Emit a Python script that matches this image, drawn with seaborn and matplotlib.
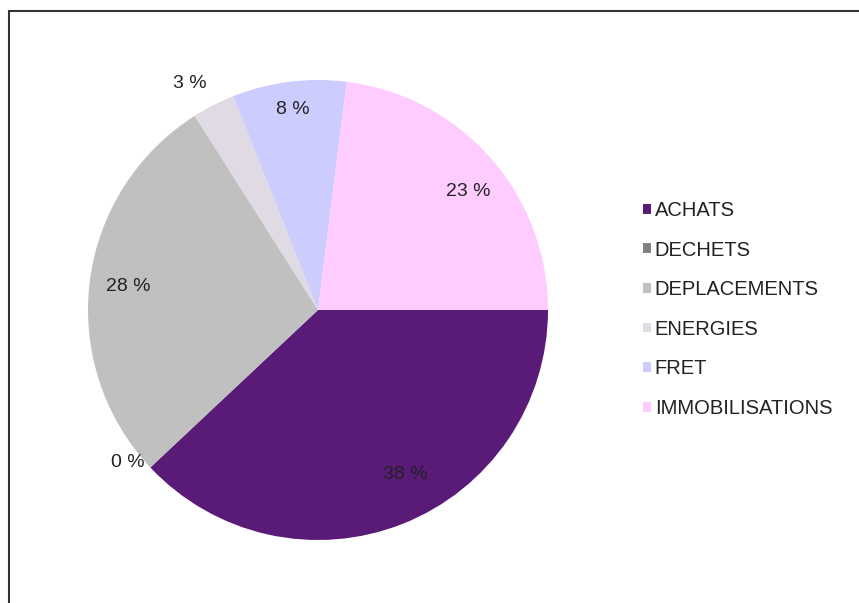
import numpy as np
import matplotlib
matplotlib.use("Agg")
import matplotlib.pyplot as plt
import seaborn as sns
from matplotlib.lines import Line2D

categories = ["ACHATS", "DECHETS", "DEPLACEMENTS", "ENERGIES", "FRET", "IMMOBILISATIONS"]
values = [38, 0, 28, 3, 8, 23]
labels = ["38 %", "0 %", "28 %", "3 %", "8 %", "23 %"]
colors = ["#5a1b78", "#7f7f7f", "#c0c0c0", "#e0dae4", "#ccccff", "#ffccff"]
label_dist = [0.81, 1.06, 0.83, 1.13, 0.88, 0.83]
label_ang_shift = [6.2, -4.5, 0.0, 2.5, 0.0, -3.2]

sns.set_theme(style="white")
plt.rcParams['font.family'] = ['Liberation Sans', 'DejaVu Sans']

W, H = 859, 603
fig = plt.figure(figsize=(W / 100, H / 100), dpi=100)
fig.patch.set_facecolor("white")

cx, cy, r = 318, 310, 230
ax = fig.add_axes([(cx - r) / W, (H - cy - r) / H, 2 * r / W, 2 * r / H])
wedges, _ = ax.pie(values, colors=colors, startangle=0, counterclock=False,
                   radius=1, wedgeprops=dict(linewidth=0))
ax.set_xlim(-1, 1)
ax.set_ylim(-1, 1)
ax.set_aspect("equal")
ax.axis("off")

for w, lab, d, s in zip(wedges, labels, label_dist, label_ang_shift):
    ang = np.deg2rad((w.theta1 + w.theta2) / 2 + s)
    ax.text(d * np.cos(ang), d * np.sin(ang), lab, ha="center", va="center",
            fontsize=14, color="#222222")

leg = fig.legend(wedges, categories, loc="upper left",
                 bbox_to_anchor=(633 / W, 1 - 191 / H), frameon=False,
                 fontsize=14.5, handlelength=0.38, handleheight=0.38,
                 handletextpad=0.2, labelspacing=1.02, borderpad=0)
for t in leg.get_texts():
    t.set_color("#222222")

# frame lines (left and top)
fig.add_artist(Line2D([9 / W, 9 / W], [0, 1 - 11 / H], transform=fig.transFigure,
                      color="#333333", linewidth=1.5))
fig.add_artist(Line2D([9 / W, 1], [1 - 11 / H, 1 - 11 / H], transform=fig.transFigure,
                      color="#333333", linewidth=1.5))

fig.savefig("out.png", dpi=100, facecolor="white")
